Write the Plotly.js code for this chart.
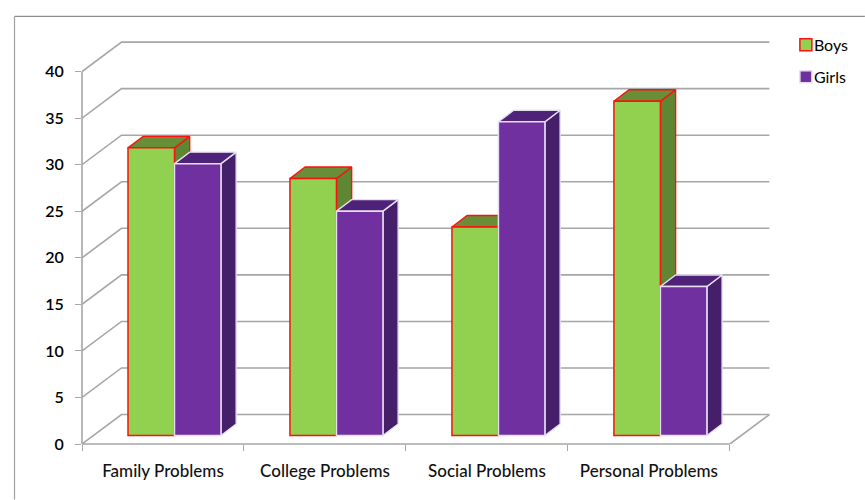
<!DOCTYPE html>
<html><head><meta charset="utf-8">
<script src="https://cdn.plot.ly/plotly-3.0.1.min.js"></script>
<style>html,body{margin:0;padding:0;background:#fff}</style></head>
<body><div id="chart" style="width:865px;height:500px"></div>
<script>
const categories = ["Family Problems","College Problems","Social Problems","Personal Problems"];
const boys = [30.9, 27.6, 22.4, 35.9];
const girls = [29.2, 24.1, 33.7, 16.0];
const yTicks = [0,5,10,15,20,25,30,35,40];

// 3D projection constants (axis units)
const PX = 162, PY = 9.32;
const floorDx = 11.4/PX, floorDy = 8.5/PY;
const depthDx = 15.2/PX, depthDy = 11.5/PY;
const wallDx = 39.5/PX, wallDy = 29.5/PY;
const barW = 46.5/PX, barOff = 34.6/PX;
const xMax = 4.26, yMax = 43.5;
const plotL = 82, plotB = 444.5, plotR = plotL + xMax*PX, plotT = plotB - yMax*PY;
const plotW = plotR - plotL, plotH = plotB - plotT;

function faces(vals, slot){
  const top={x:[],y:[]}, side={x:[],y:[]}, xs=[];
  vals.forEach((v,i)=>{
    const x0=i+floorDx+barOff+slot*barW, x1=x0+barW, b=floorDy, t=floorDy+v;
    xs.push(x0);
    top.x.push(x0,x1,x1+depthDx,x0+depthDx,x0,null);
    top.y.push(t,t,t+depthDy,t+depthDy,t,null);
    side.x.push(x1,x1+depthDx,x1+depthDx,x1,x1,null);
    side.y.push(b,b+depthDy,t+depthDy,t,b,null);
  });
  return {top,side,xs};
}
const gx=[],gy=[];
yTicks.forEach(v=>{
  gx.push(0,wallDx,4+wallDx,null); gy.push(v,v+wallDy,v+wallDy,null);
});
gx.push(4,4+wallDx,null); gy.push(0,wallDy,null);

const B=faces(boys,0), G=faces(girls,1);
const RED="#ff0f0f", LITE="#e6dff0", GRID="#a6a6a6";
function poly(f,fill,line,z){
  return {type:"scatter",mode:"lines",x:f.x,y:f.y,fill:"toself",fillcolor:fill,
    line:{color:line,width:1.4},showlegend:false,hoverinfo:"skip",zorder:z};
}
function bar(name,xs,vals,fill,line,z){
  return {type:"bar",name:name,x:xs,y:vals,base:vals.map(()=>floorDy),width:barW,offset:0,
    marker:{color:fill,line:{color:line,width:1.5}},hoverinfo:"skip",zorder:z,legendgroup:name};
}
const traces=[
  {type:"scatter",mode:"lines",x:gx,y:gy,line:{color:GRID,width:1.6},showlegend:false,hoverinfo:"skip",zorder:0},
  poly(B.side,"#5f8733",RED,1), poly(B.top,"#688f38",RED,1),
  bar("Boys",B.xs,boys,"#92d050",RED,2),
  poly(G.side,"#461f6a",LITE,3), poly(G.top,"#4e2278",LITE,3),
  bar("Girls",G.xs,girls,"#7030a0",LITE,4)
];
const font={family:"Lato, sans-serif",size:16,color:"#000",weight:600};
const xFont={family:"Lato, sans-serif",size:17,color:"#111",weight:500};
const legendFont={family:"Lato, sans-serif",size:16,color:"#000",weight:400};
const px=x=>(x-plotL)/plotW, py=y=>(plotB-y)/plotH;
const layout={
  width:865,height:500,paper_bgcolor:"#fff",plot_bgcolor:"rgba(0,0,0,0)",
  margin:{l:plotL,r:865-plotR,t:plotT,b:500-plotB,autoexpand:false,pad:0},
  barmode:"overlay",font:font,
  xaxis:{range:[0,xMax],tickmode:"array",tickvals:categories.map((c,i)=>i+0.5),ticktext:categories,
    ticks:"",showgrid:false,zeroline:false,showline:false,
    ticklabelstandoff:15,tickfont:xFont,
    minor:{tickmode:"array",tickvals:[0,1,2,3,4],ticks:"outside",ticklen:6,tickcolor:GRID,tickwidth:1.4,showgrid:false}},
  yaxis:{range:[0,yMax],tickmode:"array",tickvals:yTicks,ticks:"outside",ticklen:6,tickcolor:GRID,tickwidth:1.4,
    showgrid:false,zeroline:false,showline:false,ticklabelstandoff:8,tickfont:font},
  legend:{x:px(786),y:py(28),font:legendFont,traceorder:"grouped",tracegroupgap:8,bgcolor:"rgba(0,0,0,0)"},
  shapes:[
    {type:"line",xref:"paper",yref:"paper",x0:px(14.5),x1:px(865),y0:py(16.5),y1:py(16.5),line:{color:"#8c8c8c",width:1.2}},
    {type:"line",xref:"paper",yref:"paper",x0:px(14.5),x1:px(14.5),y0:py(16.5),y1:py(500),line:{color:"#a0a0a0",width:1.2}},
    {type:"line",xref:"paper",yref:"paper",x0:0,x1:0,y0:0,y1:40/yMax,line:{color:GRID,width:1.6},layer:"below"},
    {type:"line",xref:"paper",yref:"paper",x0:0,x1:4/xMax,y0:0,y1:0,line:{color:GRID,width:1.6},layer:"below"}
  ]
};
Plotly.newPlot("chart",traces,layout,{displayModeBar:false,responsive:false}).then(()=>{
  document.querySelectorAll(".legendtext").forEach(t=>t.setAttribute("x",28));
});
</script></body></html>
